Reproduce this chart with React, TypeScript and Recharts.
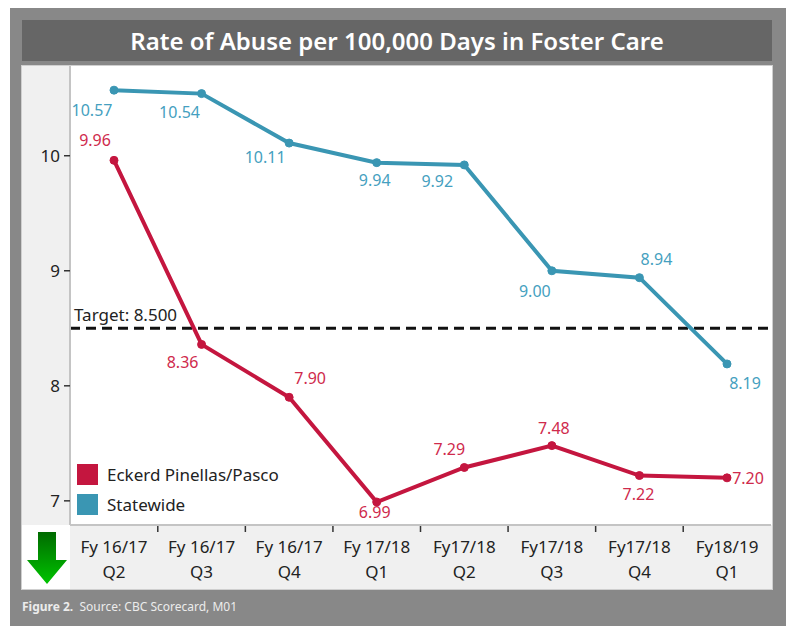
import React from 'react';
import { LineChart, Line, XAxis, YAxis, ReferenceLine, Legend } from 'recharts';

const periods = ['Fy 16/17', 'Fy 16/17', 'Fy 16/17', 'Fy 17/18', 'Fy17/18', 'Fy17/18', 'Fy17/18', 'Fy18/19'];
const quarters = ['Q2', 'Q3', 'Q4', 'Q1', 'Q2', 'Q3', 'Q4', 'Q1'];
const eckerd = [9.96, 8.36, 7.9, 6.99, 7.29, 7.48, 7.22, 7.2];
const statewide = [10.57, 10.54, 10.11, 9.94, 9.92, 9.0, 8.94, 8.19];
const yTicks = [7, 8, 9, 10];
const target = 8.5;

const data = periods.map((p, i) => ({
  name: `${p}|${quarters[i]}`,
  eckerd: eckerd[i],
  statewide: statewide[i],
}));

// label placement relative to each dot (dx, dy)
const eckerdLabelPos = [[-19, -20], [-19, 18], [21, -19], [-2, 10], [-15, -18], [2, -18], [-1, 18], [21, 0]];
const statewideLabelPos = [[-22, 20], [-22, 18], [-24, 14], [-2, 17], [-27, 16], [-17, 20], [17, -19], [18, 19]];

const FONT = '"Noto Sans", sans-serif';
const RED = '#c4163f';
const TEAL = '#3a96b3';
const CHART_W = 750;
const CHART_H = 522;
const X_AXIS_H = 63;
const PLOT_H = CHART_H - X_AXIS_H;
const Y_AXIS_W = 48;
const X_PAD = 44;
const STEP = (CHART_W - Y_AXIS_W - 1 - 2 * X_PAD) / (periods.length - 1);

const makeLabel = (pos: number[][], color: string) => (props: any) => {
  const { x, y, value, index } = props;
  const [dx, dy] = pos[index] || [0, -15];
  return (
    <text
      x={x + dx}
      y={y + dy}
      textAnchor="middle"
      dominantBaseline="central"
      fill={color}
      fontSize={16}
      fontFamily={FONT}
    >
      {Number(value).toFixed(2)}
    </text>
  );
};

const TargetLabel = (props: any) => {
  const vb = props.viewBox || {};
  return (
    <text x={(vb.x || 0) + 4} y={(vb.y || 0) - 14} dominantBaseline="central" fill="#222" fontSize={17} fontFamily={FONT}>
      Target: 8.500
    </text>
  );
};

const XTick = (props: any) => {
  const { x, payload, index } = props;
  const [a, b] = String(payload.value).split('|');
  return (
    <g>
      <text x={x} y={PLOT_H + 21} textAnchor="middle" dominantBaseline="central" fill="#222" fontSize={17} fontFamily={FONT}>
        {a}
      </text>
      <text x={x} y={PLOT_H + 46} textAnchor="middle" dominantBaseline="central" fill="#222" fontSize={17} fontFamily={FONT}>
        {b}
      </text>
      {index > 0 && (
        <line x1={x - STEP / 2} x2={x - STEP / 2} y1={PLOT_H + 1} y2={PLOT_H + 7} stroke="#333" strokeWidth={1.5} />
      )}
    </g>
  );
};

const renderLegend = (props: any) => {
  const { payload } = props;
  return (
    <div style={{ fontFamily: FONT, fontSize: 17, color: '#222' }}>
      {(payload || []).map((entry: any) => (
        <div key={entry.value} style={{ display: 'flex', alignItems: 'center', height: 30 }}>
          <span style={{ width: 21, height: 21, background: entry.color, marginRight: 9, display: 'inline-block' }} />
          <span>{entry.value}</span>
        </div>
      ))}
    </div>
  );
};

const GreenArrow = () => (
  <svg width={48} height={63}>
    <defs>
      <linearGradient id="arrowGreen" x1="0" y1="0" x2="0" y2="1">
        <stop offset="0%" stopColor="#006a00" />
        <stop offset="100%" stopColor="#00c400" />
      </linearGradient>
    </defs>
    <polygon points="16,7 34,7 34,35 45,35 25,59 5,35 16,35" fill="url(#arrowGreen)" />
  </svg>
);

export default function App() {
  return (
    <div style={{ position: 'absolute', left: 0, top: 0, width: 786, height: 626, fontFamily: FONT }}>
      <div style={{ position: 'absolute', left: 10, top: 8, width: 776, height: 618, background: '#888888' }} />
      <div
        style={{
          position: 'absolute',
          left: 22,
          top: 20,
          width: 750,
          height: 41,
          background: '#666666',
          color: '#ffffff',
          fontSize: 24,
          fontWeight: 600,
          lineHeight: '41px',
          textAlign: 'center',
        }}
      >
        Rate of Abuse per 100,000 Days in Foster Care
      </div>
      <div style={{ position: 'absolute', left: 22, top: 66, width: 750, height: 523, background: '#ffffff', boxShadow: '0 0 0 1px #cfcfcf' }} />
      <div style={{ position: 'absolute', left: 22, top: 66, width: 48, height: PLOT_H, background: '#f0f0f0' }} />
      <div style={{ position: 'absolute', left: 70, top: 66 + PLOT_H, width: 702, height: X_AXIS_H + 1, background: '#f0f0f0' }} />
      <div style={{ position: 'absolute', left: 22, top: 66 + PLOT_H, width: 48, height: X_AXIS_H + 1, background: '#ffffff' }}>
        <GreenArrow />
      </div>
      <div style={{ position: 'absolute', left: 22, top: 66 }}>
        <LineChart
          width={CHART_W}
          height={CHART_H}
          data={data}
          margin={{ top: 0, right: 1, bottom: 0, left: 0 }}
          style={{ fontFamily: FONT }}
        >
          <XAxis
            dataKey="name"
            height={X_AXIS_H}
            padding={{ left: X_PAD, right: X_PAD }}
            interval={0}
            tickLine={false}
            axisLine={{ stroke: '#c4c4c4', strokeWidth: 2 }}
            tick={<XTick />}
          />
          <YAxis
            width={Y_AXIS_W}
            domain={[6.79, 10.78]}
            ticks={yTicks}
            allowDataOverflow
            tickSize={6}
            tickMargin={4}
            axisLine={{ stroke: '#c4c4c4', strokeWidth: 2 }}
            tickLine={{ stroke: '#333', strokeWidth: 1.5 }}
            tick={{ fill: '#222', fontSize: 17, fontFamily: FONT }}
          />
          <ReferenceLine
            y={target}
            stroke="#111"
            strokeWidth={3}
            strokeDasharray="10 6"
            label={<TargetLabel />}
          />
          <Legend
            layout="vertical"
            align="center"
            verticalAlign="middle"
            content={renderLegend}
            wrapperStyle={{ left: 55, top: 393, width: 'auto' }}
          />
          <Line
            name="Eckerd Pinellas/Pasco"
            dataKey="eckerd"
            stroke={RED}
            strokeWidth={4}
            dot={{ r: 4, fill: RED, stroke: RED, strokeWidth: 1 }}
            activeDot={false}
            isAnimationActive={false}
            label={makeLabel(eckerdLabelPos, '#cf2a4c')}
          />
          <Line
            name="Statewide"
            dataKey="statewide"
            stroke={TEAL}
            strokeWidth={4}
            dot={{ r: 4, fill: TEAL, stroke: TEAL, strokeWidth: 1 }}
            activeDot={false}
            isAnimationActive={false}
            label={makeLabel(statewideLabelPos, '#459fc0')}
          />
        </LineChart>
      </div>
      <div style={{ position: 'absolute', left: 22, top: 598, fontSize: 12, lineHeight: '18px', color: '#ececec' }}>
        <b>Figure 2.</b>&nbsp; Source: CBC Scorecard, M01
      </div>
    </div>
  );
}
